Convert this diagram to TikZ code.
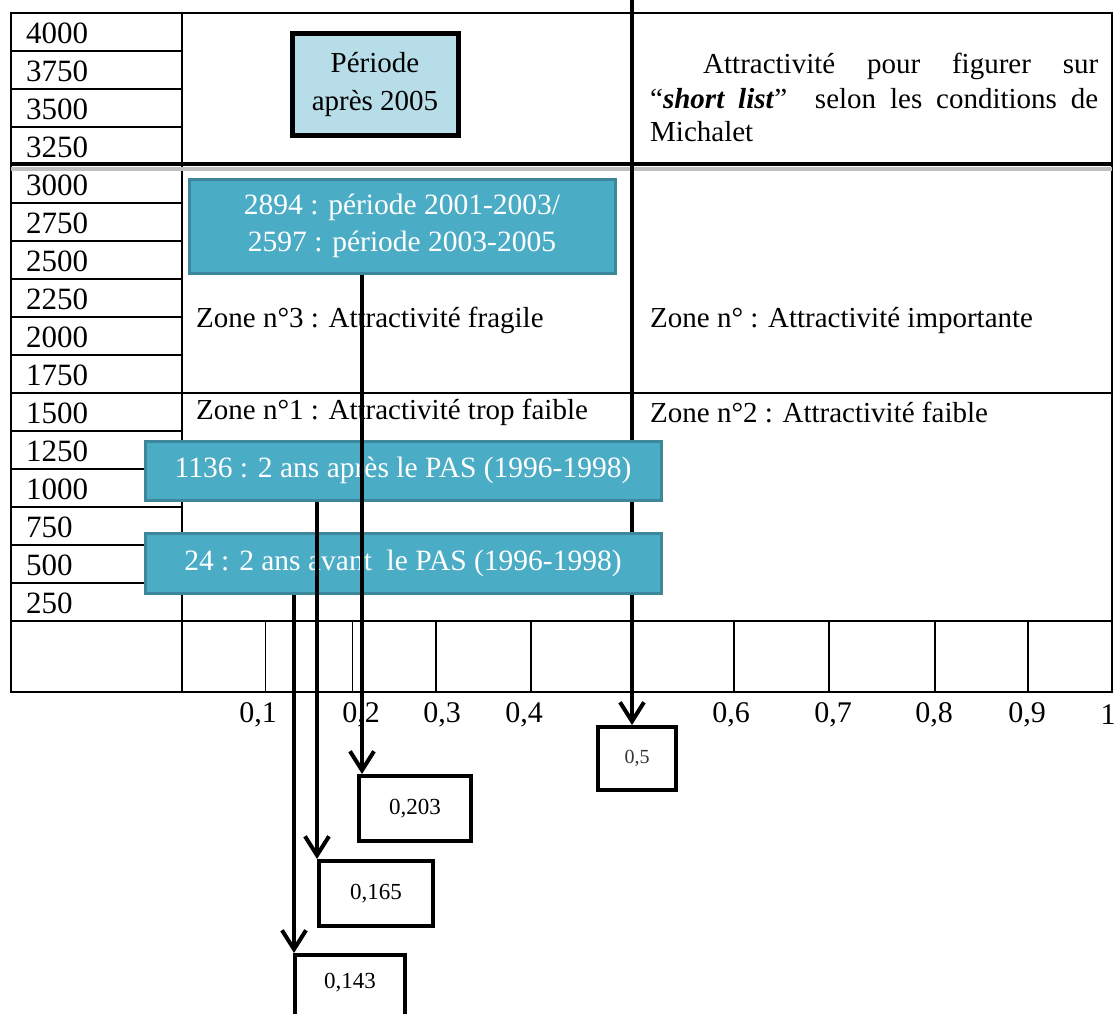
\documentclass[tikz,border=0pt]{standalone}
\usepackage{fontspec}
\setmainfont{Liberation Serif}
\usetikzlibrary{arrows.meta}
\definecolor{tealfill}{HTML}{4BACC6}
\definecolor{tealborder}{HTML}{3D879B}
\definecolor{paleblue}{HTML}{B7DDE8}
\begin{document}
\begin{tikzpicture}[x=1pt,y=-1pt,
  gridline/.style={line width=1.6pt},
  thingrid/.style={line width=0.8pt},
  lab/.style={font=\fontsize{29}{33}\selectfont, anchor=west, inner sep=0pt},
  numlab/.style={font=\fontsize{31}{33}\selectfont, anchor=west, inner sep=0pt},
  axlab/.style={font=\fontsize{30}{33}\selectfont, inner sep=0pt},
  tealbox/.style={draw=tealborder, line width=3pt, fill=tealfill, text=white,
    font=\fontsize{29.5}{37}\selectfont, align=center, inner sep=0pt},
  periodbox/.style={draw, line width=5pt, fill=paleblue,
    font=\fontsize{29}{38}\selectfont, align=center, inner sep=0pt},
  valbox/.style={draw, line width=4pt, fill=white, inner sep=0pt,
    font=\fontsize{23}{26}\selectfont},
  arr/.style={line width=4pt, -{Straight Barb[length=19pt,width=24pt]}},
]
\useasboundingbox (0,0) rectangle (1116,1013);
\clip (0,0) rectangle (1116,1013);
\fill[white] (0,0) rectangle (1116,1013);

% ---- table grid ----
\draw[gridline] (11,13) rectangle (1112,692);
\draw[gridline] (182,13) -- (182,692);
\foreach \yy in {51,89,127,203,241,279,317,355,431,469,507,545,583}
  \draw[gridline] (11,\yy) -- (182,\yy);
\draw[gridline] (11,393) -- (1112,393);
\draw[gridline] (11,621) -- (1112,621);
\foreach \xx in {436,531,734,829,935,1028}
  \draw[gridline] (\xx,621) -- (\xx,692);
\foreach \xx in {265,352}
  \draw[thingrid] (\xx,621) -- (\xx,692);
% thick separator with shadow
\draw[line width=4pt, black!25] (11,169) -- (1112,169);
\draw[line width=4.5pt] (11,164) -- (1112,164);

% ---- left column values ----
\foreach \v [count=\i from 0] in {4000,3750,3500,3250,3000,2750,2500,2250,2000,1750,1500,1250,1000,750,500,250}
  \node[numlab] (v\v) at (26,{33+38*\i}) {\v};

% ---- zone texts ----
\node[lab] (z3) at (196,320) {Zone n°3 : Attractivité fragile};
\node[lab] (z4) at (650,320) {Zone n° : Attractivité importante};
\node[lab] (z1) at (196,412) {Zone n°1 : Attractivité trop faible};
\node[lab] (z2) at (650,412) {Zone n°2 : Attractivité faible};

% ---- top right text ----
\node[lab] (t1) at (703,66) {\makebox[395pt][s]{Attractivité pour figurer sur}};
\node[lab] (t2) at (650,99) {\makebox[448pt][s]{“\textbf{\textit{short list}}” \ selon les conditions de}};
\node[lab] (t3) at (650,132) {Michalet};

% ---- axis labels ----
\foreach \t/\xx in {0{,}1/258,0{,}2/361,0{,}3/442,0{,}4/524,0{,}6/731,0{,}7/833,0{,}8/934,0{,}9/1027,1/1108}
  \node[axlab] at (\xx,715) {\t};

% ---- coordinates for arrows ----
\coordinate (x5) at (632,0);
\coordinate (x203) at (362,0);
\coordinate (x165) at (317,0);
\coordinate (x143) at (294,0);

% ---- value boxes ----
\node[valbox, minimum width=78pt, minimum height=63pt, font=\fontsize{20}{24}\selectfont, text=black!80] (p5) at (637,758.5) {0,5};
\node[valbox, minimum width=112pt, minimum height=65pt] (p203) at (415,808.5) {0,203};
\node[valbox, minimum width=114pt, minimum height=65pt] (p165) at (376,893.5) {0,165};
\node[valbox, minimum width=110pt, minimum height=80pt] (p143) at (350,995) {};
\node[font=\fontsize{23}{26}\selectfont, inner sep=0pt] (t143) at (350,983) {0,143};

% ---- long arrow at 0,5 (behind teal boxes) ----
\draw[arr] (x5) -- (x5 |- p5.north);

% ---- boxes ----
\node[periodbox, minimum width=166pt, minimum height=102pt] (per) at (375,84) {Période\\après 2005};
\node[tealbox, minimum width=426pt, minimum height=94pt] (b2894) at (402,226)
  {2894 : période 2001-2003/\\2597 : période 2003-2005};
\node[tealbox, minimum width=516pt, minimum height=59pt] (b1136) at (403,470.5)
  {1136 : 2 ans après le PAS (1996-1998)};
\node[tealbox, minimum width=516pt, minimum height=60pt] (b24) at (403,563)
  {24 : 2 ans avant \ le PAS (1996-1998)};

% ---- arrows ----
\draw[arr] (b2894.south -| x203) -- (p203.north -| x203);
\draw[arr] (b1136.south -| x165) -- (p165.north -| x165);
\draw[arr] (b24.south -| x143) -- (p143.north -| x143);
\end{tikzpicture}
\end{document}
